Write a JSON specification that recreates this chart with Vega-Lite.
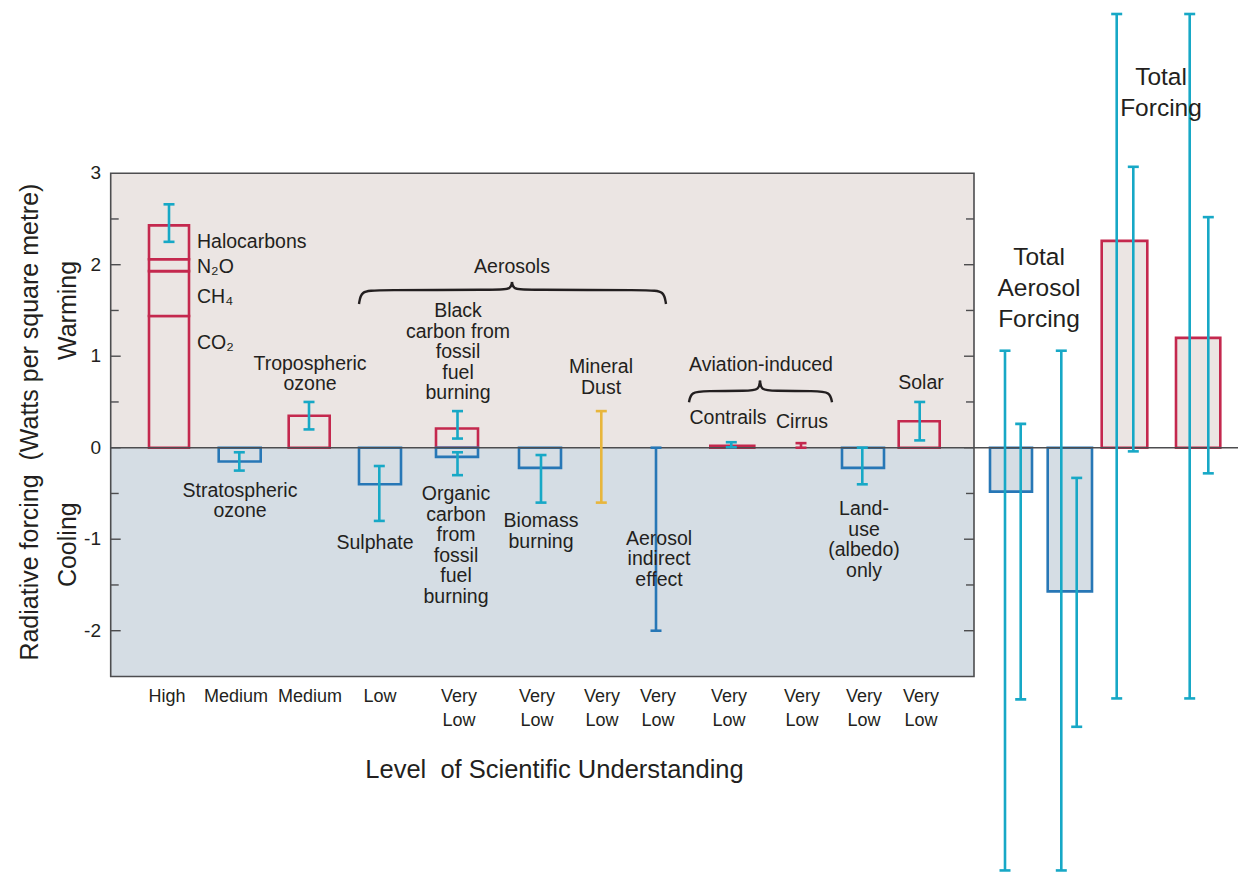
{
  "$schema": "https://vega.github.io/schema/vega-lite/v6.json",
  "width": 1238,
  "height": 872,
  "padding": 0,
  "autosize": {"type": "none"},
  "background": "#ffffff",
  "config": {"view": {"stroke": null}, "font": "Liberation Sans"},
  "datasets": {
    "zones": [
      {"kind": "warming", "lo": 0, "hi": 3},
      {"kind": "cooling", "lo": -2.5, "hi": 0}
    ],
    "frame": [{"lo": -2.5, "hi": 3}],
    "yticks": [
      {"v": -2, "major": true}, {"v": -1.5, "major": false}, {"v": -1, "major": true},
      {"v": -0.5, "major": false}, {"v": 0, "major": true}, {"v": 0.5, "major": false},
      {"v": 1, "major": true}, {"v": 1.5, "major": false}, {"v": 2, "major": true},
      {"v": 2.5, "major": false}
    ],
    "ylabels": [
      {"v": -2, "label": "-2"}, {"v": -1, "label": "-1"}, {"v": 0, "label": "0"},
      {"v": 1, "label": "1"}, {"v": 2, "label": "2"}, {"v": 3, "label": "3"}
    ],
    "bars": [
      {"item": "CO2", "x0": 14.9, "x1": 18.9, "lo": 0, "hi": 1.44, "kind": "warming"},
      {"item": "CH4", "x0": 14.9, "x1": 18.9, "lo": 1.44, "hi": 1.93, "kind": "warming"},
      {"item": "N2O", "x0": 14.9, "x1": 18.9, "lo": 1.93, "hi": 2.06, "kind": "warming"},
      {"item": "Halocarbons", "x0": 14.9, "x1": 18.9, "lo": 2.06, "hi": 2.43, "kind": "warming"},
      {"item": "Stratospheric ozone", "x0": 21.87, "x1": 26.07, "lo": -0.15, "hi": 0, "kind": "cooling"},
      {"item": "Tropospheric ozone", "x0": 28.87, "x1": 32.97, "lo": 0, "hi": 0.35, "kind": "warming"},
      {"item": "Sulphate", "x0": 35.9, "x1": 40.1, "lo": -0.4, "hi": 0, "kind": "cooling"},
      {"item": "Black carbon", "x0": 43.6, "x1": 47.8, "lo": 0, "hi": 0.21, "kind": "warming"},
      {"item": "Organic carbon", "x0": 43.6, "x1": 47.8, "lo": -0.1, "hi": 0, "kind": "cooling"},
      {"item": "Biomass burning", "x0": 51.9, "x1": 56.1, "lo": -0.22, "hi": 0, "kind": "cooling"},
      {"item": "Contrails", "x0": 71.03, "x1": 75.43, "lo": 0, "hi": 0.02, "kind": "warming"},
      {"item": "Land-use", "x0": 84.2, "x1": 88.4, "lo": -0.22, "hi": 0, "kind": "cooling"},
      {"item": "Solar", "x0": 89.87, "x1": 93.97, "lo": 0, "hi": 0.29, "kind": "warming"},
      {"item": "Total aerosol A", "x0": 99.0, "x1": 103.2, "lo": -0.48, "hi": 0, "kind": "cooling"},
      {"item": "Total aerosol B", "x0": 104.77, "x1": 109.2, "lo": -1.57, "hi": 0, "kind": "cooling"},
      {"item": "Total forcing A", "x0": 110.17, "x1": 114.73, "lo": 0, "hi": 2.26, "kind": "warming"},
      {"item": "Total forcing B", "x0": 117.6, "x1": 122.03, "lo": 0, "hi": 1.2, "kind": "warming"}
    ],
    "ranges": [
      {"item": "Greenhouse gases", "x": 16.9, "lo": 2.25, "hi": 2.66, "kind": "range"},
      {"item": "Stratospheric ozone", "x": 23.93, "lo": -0.25, "hi": -0.05, "kind": "range"},
      {"item": "Tropospheric ozone", "x": 30.9, "lo": 0.2, "hi": 0.5, "kind": "range"},
      {"item": "Sulphate", "x": 37.93, "lo": -0.8, "hi": -0.2, "kind": "range"},
      {"item": "Black carbon", "x": 45.75, "lo": 0.1, "hi": 0.4, "kind": "range"},
      {"item": "Organic carbon", "x": 45.75, "lo": -0.3, "hi": -0.05, "kind": "range"},
      {"item": "Biomass burning", "x": 54.1, "lo": -0.6, "hi": -0.08, "kind": "range"},
      {"item": "Mineral dust", "x": 60.13, "lo": -0.6, "hi": 0.4, "kind": "dust"},
      {"item": "Aerosol indirect effect", "x": 65.6, "lo": -2.0, "hi": 0, "kind": "cooling"},
      {"item": "Contrails", "x": 73.13, "lo": 0.005, "hi": 0.06, "kind": "range"},
      {"item": "Cirrus", "x": 80.1, "lo": 0, "hi": 0.05, "kind": "warming"},
      {"item": "Land-use", "x": 86.23, "lo": -0.4, "hi": 0, "kind": "range"},
      {"item": "Solar", "x": 91.97, "lo": 0.08, "hi": 0.5, "kind": "range"},
      {"item": "Total aerosol A1", "x": 100.5, "lo": -4.62, "hi": 1.06, "kind": "range"},
      {"item": "Total aerosol A2", "x": 102.07, "lo": -2.75, "hi": 0.26, "kind": "range"},
      {"item": "Total aerosol B1", "x": 106.13, "lo": -4.62, "hi": 1.06, "kind": "range"},
      {"item": "Total aerosol B2", "x": 107.67, "lo": -3.05, "hi": -0.33, "kind": "range"},
      {"item": "Total forcing A1", "x": 111.67, "lo": -2.74, "hi": 4.74, "kind": "range"},
      {"item": "Total forcing A2", "x": 113.33, "lo": -0.04, "hi": 3.07, "kind": "range"},
      {"item": "Total forcing B1", "x": 118.97, "lo": -2.74, "hi": 4.74, "kind": "range"},
      {"item": "Total forcing B2", "x": 120.83, "lo": -0.28, "hi": 2.52, "kind": "range"}
    ],
    "braces": [
      {"brace": "aerosols-left", "o": 1, "x": 35.9, "y": 1.57},
      {"brace": "aerosols-left", "o": 2, "x": 36.1, "y": 1.713},
      {"brace": "aerosols-left", "o": 3, "x": 37.6, "y": 1.724},
      {"brace": "aerosols-left", "o": 4, "x": 50.0, "y": 1.724},
      {"brace": "aerosols-left", "o": 5, "x": 51.1, "y": 1.735},
      {"brace": "aerosols-left", "o": 6, "x": 51.2, "y": 1.811},
      {"brace": "aerosols-right", "o": 1, "x": 51.2, "y": 1.811},
      {"brace": "aerosols-right", "o": 2, "x": 51.3, "y": 1.735},
      {"brace": "aerosols-right", "o": 3, "x": 52.4, "y": 1.724},
      {"brace": "aerosols-right", "o": 4, "x": 65.0, "y": 1.724},
      {"brace": "aerosols-right", "o": 5, "x": 66.4, "y": 1.713},
      {"brace": "aerosols-right", "o": 6, "x": 66.6, "y": 1.57},
      {"brace": "aviation-left", "o": 1, "x": 68.9, "y": 0.496},
      {"brace": "aviation-left", "o": 2, "x": 69.1, "y": 0.61},
      {"brace": "aviation-left", "o": 3, "x": 70.5, "y": 0.62},
      {"brace": "aviation-left", "o": 4, "x": 74.8, "y": 0.62},
      {"brace": "aviation-left", "o": 5, "x": 75.9, "y": 0.632},
      {"brace": "aviation-left", "o": 6, "x": 76.0, "y": 0.732},
      {"brace": "aviation-right", "o": 1, "x": 76.0, "y": 0.732},
      {"brace": "aviation-right", "o": 2, "x": 76.1, "y": 0.632},
      {"brace": "aviation-right", "o": 3, "x": 77.2, "y": 0.62},
      {"brace": "aviation-right", "o": 4, "x": 81.6, "y": 0.62},
      {"brace": "aviation-right", "o": 5, "x": 83.0, "y": 0.61},
      {"brace": "aviation-right", "o": 6, "x": 83.2, "y": 0.496}
    ],
    "gases": [
      {"t": "Halocarbons", "x": 19.7, "y": 2.248},
      {"t": "N₂O", "x": 19.7, "y": 1.97},
      {"t": "CH₄", "x": 19.7, "y": 1.65},
      {"t": "CO₂", "x": 19.7, "y": 1.144}
    ],
    "notes": [
      {"t": "Tropospheric\nozone", "x": 31.0, "y": 0.915},
      {"t": "Stratospheric\nozone", "x": 24.0, "y": -0.473},
      {"t": "Aerosols", "x": 51.2, "y": 1.98},
      {"t": "Black\ncarbon from\nfossil\nfuel\nburning", "x": 45.8, "y": 1.494},
      {"t": "Mineral\nDust", "x": 60.1, "y": 0.882},
      {"t": "Sulphate", "x": 37.5, "y": -1.04},
      {"t": "Organic\ncarbon\nfrom\nfossil\nfuel\nburning", "x": 45.6, "y": -0.506},
      {"t": "Biomass\nburning", "x": 54.1, "y": -0.801},
      {"t": "Aerosol\nindirect\neffect", "x": 65.9, "y": -0.997},
      {"t": "Aviation-induced", "x": 76.1, "y": 0.904},
      {"t": "Contrails", "x": 72.8, "y": 0.325},
      {"t": "Cirrus", "x": 80.2, "y": 0.28},
      {"t": "Solar", "x": 92.1, "y": 0.707},
      {"t": "Land-\nuse\n(albedo)\nonly", "x": 86.4, "y": -0.67}
    ],
    "totals": [
      {"t": "Total\nAerosol\nForcing", "x": 103.9, "y": 2.073},
      {"t": "Total\nForcing", "x": 116.1, "y": 4.041}
    ],
    "levels": [
      {"t": "High", "x": 16.7, "y": -2.725},
      {"t": "Medium", "x": 23.6, "y": -2.725},
      {"t": "Medium", "x": 31.0, "y": -2.725},
      {"t": "Low", "x": 38.0, "y": -2.725},
      {"t": "Very\nLow", "x": 45.9, "y": -2.725},
      {"t": "Very\nLow", "x": 53.7, "y": -2.725},
      {"t": "Very\nLow", "x": 60.2, "y": -2.725},
      {"t": "Very\nLow", "x": 65.8, "y": -2.725},
      {"t": "Very\nLow", "x": 72.9, "y": -2.725},
      {"t": "Very\nLow", "x": 80.2, "y": -2.725},
      {"t": "Very\nLow", "x": 86.4, "y": -2.725},
      {"t": "Very\nLow", "x": 92.1, "y": -2.725}
    ],
    "titles": [
      {"t": "Level\u00a0 of Scientific Understanding", "x": 55.45, "y": -3.522}
    ],
    "sidetitles": [
      {"t": "Radiative forcing\u00a0 (Watts per square metre)", "x": 3.0, "y": 0.28},
      {"t": "Warming", "x": 6.8, "y": 1.5},
      {"t": "Cooling", "x": 6.8, "y": -1.06}
    ]
  },
  "layer": [
    {
      "data": {"name": "zones"},
      "mark": {"type": "rect"},
      "encoding": {
        "x": {"datum": 11.07, "type": "quantitative", "scale": {"domain": [0, 123.8], "nice": false, "zero": false}, "axis": null},
        "x2": {"datum": 97.4},
        "y": {"field": "lo", "type": "quantitative", "scale": {"domain": [-4.637, 4.893], "nice": false, "zero": false}, "axis": null},
        "y2": {"field": "hi"},
        "fill": {"field": "kind", "type": "nominal", "scale": {"domain": ["warming", "cooling"], "range": ["#ebe5e3", "#d5dde4"]}, "legend": null}
      }
    },
    {
      "data": {"name": "frame"},
      "mark": {"type": "rect", "fillOpacity": 0, "stroke": "#4d4d4f", "strokeWidth": 1.6},
      "encoding": {
        "x": {"datum": 11.07, "type": "quantitative", "scale": {"domain": [0, 123.8], "nice": false, "zero": false}, "axis": null},
        "x2": {"datum": 97.4},
        "y": {"field": "lo", "type": "quantitative", "scale": {"domain": [-4.637, 4.893], "nice": false, "zero": false}, "axis": null},
        "y2": {"field": "hi"}
      }
    },
    {
      "data": {"name": "yticks"},
      "transform": [{"filter": "datum.major"}],
      "mark": {"type": "rule", "color": "#4d4d4f", "strokeWidth": 1.4},
      "encoding": {
        "x": {"datum": 11.07, "type": "quantitative", "scale": {"domain": [0, 123.8], "nice": false, "zero": false}, "axis": null},
        "x2": {"datum": 12.07},
        "y": {"field": "v", "type": "quantitative", "scale": {"domain": [-4.637, 4.893], "nice": false, "zero": false}, "axis": null}
      }
    },
    {
      "data": {"name": "yticks"},
      "transform": [{"filter": "!datum.major"}],
      "mark": {"type": "rule", "color": "#4d4d4f", "strokeWidth": 1.4},
      "encoding": {
        "x": {"datum": 11.07, "type": "quantitative", "scale": {"domain": [0, 123.8], "nice": false, "zero": false}, "axis": null},
        "x2": {"datum": 11.87},
        "y": {"field": "v", "type": "quantitative", "scale": {"domain": [-4.637, 4.893], "nice": false, "zero": false}, "axis": null}
      }
    },
    {
      "data": {"name": "yticks"},
      "transform": [{"filter": "datum.major"}],
      "mark": {"type": "rule", "color": "#4d4d4f", "strokeWidth": 1.4},
      "encoding": {
        "x": {"datum": 97.4, "type": "quantitative", "scale": {"domain": [0, 123.8], "nice": false, "zero": false}, "axis": null},
        "x2": {"datum": 96.4},
        "y": {"field": "v", "type": "quantitative", "scale": {"domain": [-4.637, 4.893], "nice": false, "zero": false}, "axis": null}
      }
    },
    {
      "data": {"name": "yticks"},
      "transform": [{"filter": "!datum.major"}],
      "mark": {"type": "rule", "color": "#4d4d4f", "strokeWidth": 1.4},
      "encoding": {
        "x": {"datum": 97.4, "type": "quantitative", "scale": {"domain": [0, 123.8], "nice": false, "zero": false}, "axis": null},
        "x2": {"datum": 96.6},
        "y": {"field": "v", "type": "quantitative", "scale": {"domain": [-4.637, 4.893], "nice": false, "zero": false}, "axis": null}
      }
    },
    {
      "data": {"name": "ylabels"},
      "mark": {"type": "text", "align": "right", "baseline": "middle", "fontSize": 19, "color": "#231f20"},
      "encoding": {
        "x": {"datum": 10.1, "type": "quantitative", "scale": {"domain": [0, 123.8], "nice": false, "zero": false}, "axis": null},
        "y": {"field": "v", "type": "quantitative", "scale": {"domain": [-4.637, 4.893], "nice": false, "zero": false}, "axis": null},
        "text": {"field": "label"}
      }
    },
    {
      "data": {"name": "bars"},
      "mark": {"type": "rect", "strokeWidth": 2.6},
      "encoding": {
        "x": {"field": "x0", "type": "quantitative", "scale": {"domain": [0, 123.8], "nice": false, "zero": false}, "axis": null},
        "x2": {"field": "x1"},
        "y": {"field": "lo", "type": "quantitative", "scale": {"domain": [-4.637, 4.893], "nice": false, "zero": false}, "axis": null},
        "y2": {"field": "hi"},
        "fill": {"field": "kind", "type": "nominal", "scale": {"domain": ["warming", "cooling"], "range": ["#ebe5e3", "#d5dde4"]}, "legend": null},
        "stroke": {"field": "kind", "type": "nominal", "scale": {"domain": ["warming", "cooling"], "range": ["#c4284e", "#2777b6"]}, "legend": null}
      }
    },
    {
      "data": {"values": [{"v": 0}]},
      "mark": {"type": "rule", "color": "#4d4d4f", "strokeWidth": 1.6},
      "encoding": {
        "x": {"datum": 11.07, "type": "quantitative", "scale": {"domain": [0, 123.8], "nice": false, "zero": false}, "axis": null},
        "x2": {"datum": 123.8},
        "y": {"field": "v", "type": "quantitative", "scale": {"domain": [-4.637, 4.893], "nice": false, "zero": false}, "axis": null}
      }
    },
    {
      "data": {"name": "ranges"},
      "mark": {"type": "rule", "strokeWidth": 2.6},
      "encoding": {
        "x": {"field": "x", "type": "quantitative", "scale": {"domain": [0, 123.8], "nice": false, "zero": false}, "axis": null},
        "y": {"field": "lo", "type": "quantitative", "scale": {"domain": [-4.637, 4.893], "nice": false, "zero": false}, "axis": null},
        "y2": {"field": "hi"},
        "color": {"field": "kind", "type": "nominal", "scale": {"domain": ["range", "warming", "cooling", "dust"], "range": ["#17a8c6", "#c4284e", "#2777b6", "#e8b63c"]}, "legend": null}
      }
    },
    {
      "data": {"name": "ranges"},
      "mark": {"type": "tick", "orient": "horizontal", "size": 11, "thickness": 2.6, "opacity": 1},
      "encoding": {
        "x": {"field": "x", "type": "quantitative", "scale": {"domain": [0, 123.8], "nice": false, "zero": false}, "axis": null},
        "y": {"field": "hi", "type": "quantitative", "scale": {"domain": [-4.637, 4.893], "nice": false, "zero": false}, "axis": null},
        "color": {"field": "kind", "type": "nominal", "scale": {"domain": ["range", "warming", "cooling", "dust"], "range": ["#17a8c6", "#c4284e", "#2777b6", "#e8b63c"]}, "legend": null}
      }
    },
    {
      "data": {"name": "ranges"},
      "mark": {"type": "tick", "orient": "horizontal", "size": 11, "thickness": 2.6, "opacity": 1},
      "encoding": {
        "x": {"field": "x", "type": "quantitative", "scale": {"domain": [0, 123.8], "nice": false, "zero": false}, "axis": null},
        "y": {"field": "lo", "type": "quantitative", "scale": {"domain": [-4.637, 4.893], "nice": false, "zero": false}, "axis": null},
        "color": {"field": "kind", "type": "nominal", "scale": {"domain": ["range", "warming", "cooling", "dust"], "range": ["#17a8c6", "#c4284e", "#2777b6", "#e8b63c"]}, "legend": null}
      }
    },
    {
      "data": {"name": "braces"},
      "mark": {"type": "line", "interpolate": "basis", "color": "#231f20", "strokeWidth": 2.4},
      "encoding": {
        "x": {"field": "x", "type": "quantitative", "scale": {"domain": [0, 123.8], "nice": false, "zero": false}, "axis": null},
        "y": {"field": "y", "type": "quantitative", "scale": {"domain": [-4.637, 4.893], "nice": false, "zero": false}, "axis": null},
        "detail": {"field": "brace"},
        "order": {"field": "o", "type": "quantitative"}
      }
    },
    {
      "data": {"name": "gases"},
      "mark": {"type": "text", "align": "left", "baseline": "middle", "fontSize": 19.5, "color": "#231f20"},
      "encoding": {
        "x": {"field": "x", "type": "quantitative", "scale": {"domain": [0, 123.8], "nice": false, "zero": false}, "axis": null},
        "y": {"field": "y", "type": "quantitative", "scale": {"domain": [-4.637, 4.893], "nice": false, "zero": false}, "axis": null},
        "text": {"field": "t"}
      }
    },
    {
      "data": {"name": "notes"},
      "mark": {"type": "text", "align": "center", "baseline": "middle", "fontSize": 19.5, "lineHeight": 20.5, "lineBreak": "\n", "color": "#231f20"},
      "encoding": {
        "x": {"field": "x", "type": "quantitative", "scale": {"domain": [0, 123.8], "nice": false, "zero": false}, "axis": null},
        "y": {"field": "y", "type": "quantitative", "scale": {"domain": [-4.637, 4.893], "nice": false, "zero": false}, "axis": null},
        "text": {"field": "t"}
      }
    },
    {
      "data": {"name": "totals"},
      "mark": {"type": "text", "align": "center", "baseline": "middle", "fontSize": 24.5, "lineHeight": 31, "lineBreak": "\n", "color": "#231f20"},
      "encoding": {
        "x": {"field": "x", "type": "quantitative", "scale": {"domain": [0, 123.8], "nice": false, "zero": false}, "axis": null},
        "y": {"field": "y", "type": "quantitative", "scale": {"domain": [-4.637, 4.893], "nice": false, "zero": false}, "axis": null},
        "text": {"field": "t"}
      }
    },
    {
      "data": {"name": "levels"},
      "mark": {"type": "text", "align": "center", "baseline": "middle", "fontSize": 18, "lineHeight": 24, "lineBreak": "\n", "color": "#231f20"},
      "encoding": {
        "x": {"field": "x", "type": "quantitative", "scale": {"domain": [0, 123.8], "nice": false, "zero": false}, "axis": null},
        "y": {"field": "y", "type": "quantitative", "scale": {"domain": [-4.637, 4.893], "nice": false, "zero": false}, "axis": null},
        "text": {"field": "t"}
      }
    },
    {
      "data": {"name": "titles"},
      "mark": {"type": "text", "align": "center", "baseline": "middle", "fontSize": 25.5, "color": "#231f20"},
      "encoding": {
        "x": {"field": "x", "type": "quantitative", "scale": {"domain": [0, 123.8], "nice": false, "zero": false}, "axis": null},
        "y": {"field": "y", "type": "quantitative", "scale": {"domain": [-4.637, 4.893], "nice": false, "zero": false}, "axis": null},
        "text": {"field": "t"}
      }
    },
    {
      "data": {"name": "sidetitles"},
      "mark": {"type": "text", "align": "center", "baseline": "middle", "angle": 270, "fontSize": 25, "color": "#231f20"},
      "encoding": {
        "x": {"field": "x", "type": "quantitative", "scale": {"domain": [0, 123.8], "nice": false, "zero": false}, "axis": null},
        "y": {"field": "y", "type": "quantitative", "scale": {"domain": [-4.637, 4.893], "nice": false, "zero": false}, "axis": null},
        "text": {"field": "t"}
      }
    }
  ]
}
